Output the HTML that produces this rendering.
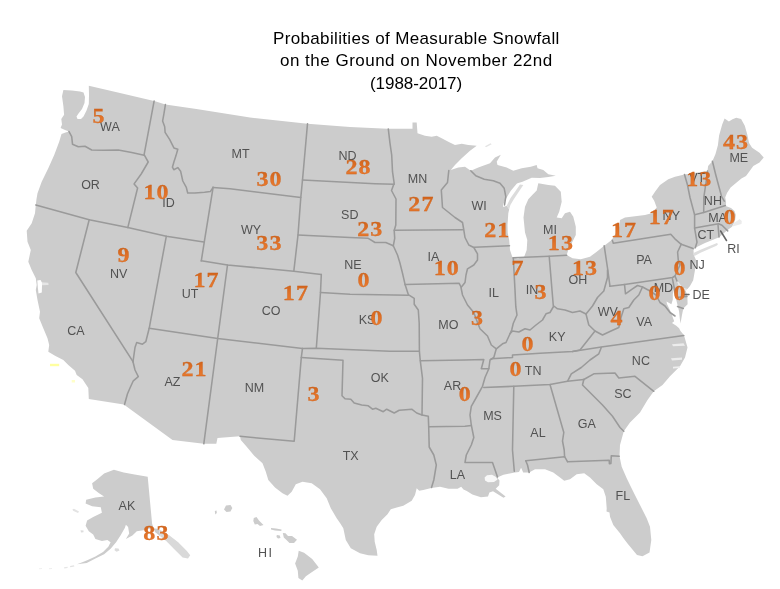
<!DOCTYPE html>
<html lang="en"><head><meta charset="utf-8"><title>Probabilities of Measurable Snowfall</title>
<style>
html,body{margin:0;padding:0;background:#fff;}
body{width:780px;height:589px;overflow:hidden;position:relative;font-family:"Liberation Sans",sans-serif;}
#map{position:absolute;left:0;top:0;width:780px;height:589px;display:block;filter:blur(0.5px);}
.title{position:absolute;left:0;top:0;width:780px;height:100px;margin:0;font-weight:normal;color:#000;will-change:transform;}
.title span{position:absolute;white-space:nowrap;font-family:"Liberation Sans",sans-serif;font-size:17px;line-height:20px;letter-spacing:0.35px;transform-origin:0 0;}
.land{fill:#cccccc;stroke:none;}
.b{fill:none;stroke:#9a9a9a;stroke-width:1.55;stroke-linejoin:round;stroke-linecap:round;}
.st{font-family:"Liberation Sans",sans-serif;font-size:12.5px;fill:#525252;text-anchor:middle;}
.n{font-family:"Liberation Serif",serif;font-weight:bold;font-size:20.5px;fill:url(#ng);stroke:#c9601a;stroke-width:0.25;text-anchor:middle;}
</style></head><body>
<svg id="map" width="780" height="589" viewBox="0 0 780 589">
<defs><linearGradient id="ng" x1="0" y1="0" x2="0" y2="1"><stop offset="0" stop-color="#c95e16"/><stop offset="0.55" stop-color="#e27228"/><stop offset="1" stop-color="#ea7e32"/></linearGradient></defs>
<g class="land">
<polygon points="88.8,85.8 120,93 155.1,101.3 165.4,104.6 196.4,109.1 250,117.6 307.5,123.8 350,127 387.5,128.8 412.5,128.8 412.5,122.5 416.7,122.5 417.5,133.3 425,135.8 431.7,136.7 436.7,135.8 441.7,138.3 448.3,141.7 455,145 461.7,143.7 468.3,145 476.7,145.8 470,150.8 461.7,158.3 455,165 450.8,170 458.3,167.5 465,166.7 470.8,170.8 478.3,167.5 490,163.3 495,157.5 500.8,154.7 496.7,161.7 497.5,165 506.7,167.5 513.3,170.8 521.7,168.3 530.8,166.7 536.7,165 537.5,168.3 543.3,170 548.3,174.2 555.8,175.8 548.3,176.9 540,177.9 531.7,177.7 528.3,179.2 522.5,181.7 517.5,183.3 516.7,183.8 510.8,190.8 506.7,197.5 502.9,205 503.3,207 506.7,205.7 509.2,209.2 508.3,213.3 507.5,225 507.7,233 509.2,240 510,250 512.5,257.5 518,258.6 524.2,256.7 526.7,250 527.3,240 525,232.5 523.5,217.5 525,206.7 528.3,199.2 532.5,194.8 536.7,190.5 538.3,183.3 548.3,185 555,185.8 560.8,191.7 561.7,201.7 559.2,211.7 556.7,217.5 561.7,218.3 565,213.3 570,211.7 573.3,216.7 575.8,226.7 575.8,235 571.7,243.3 568.3,250 566.7,255 572.5,258.3 580.8,259.2 590,256.7 596.7,251.7 604.2,245.8 611.7,240 615.8,233.3 619.2,226.7 620,220 625,217.5 635,216.3 645,215 651.7,213.3 656.7,207.5 654.2,200.8 651.7,196.7 655,191.7 660,185 668.3,179.2 675,176.7 684.5,174.5 707.5,171 708.1,166.1 712.4,161.2 715.5,153.9 717.9,145.3 719.1,135.6 722.2,124.6 724.6,118.4 728.9,121.5 732.5,119.3 736.2,117.8 741.1,119.1 744.8,125.8 747.2,134.3 749.1,142.9 752.1,147.8 759.5,152.7 763.7,157.6 759.5,162.5 753.3,166.1 749.7,171 746,176 741.4,178.6 736,183.1 730.6,187.6 727,193 725.2,197.5 726.1,202 725.7,206.1 731,208 734.5,211 735.8,215 735.2,219.5 734,223 732,226.7 726.3,230.9 719.2,237.2 705,243 695.3,247.8 693.5,250 693.8,255 696,260 695,270 693.2,280.3 690,286 687.5,289 683.5,288.5 680,284.5 677,280.5 678.5,284.5 682,289.5 685.8,291 687.4,296 687.6,304.3 683.3,308.5 681.9,315.6 680.5,323.4 679.8,318.4 679.1,311.4 677.7,305.7 676.3,300.1 675,294 674,289.5 672.8,294 672.8,299.4 671.4,304.3 666.5,301.6 667,304 669.9,310 672.1,315.6 674.2,321.2 672,323 676.3,325.8 679.1,328.3 680.5,331 684,335.3 687.5,347.5 685,357.5 680,366.3 670,376.3 662.5,385 653.8,391.3 647.5,400 640,412.5 630,422.5 623.8,431.3 620,445 619.5,456.3 621.7,466.7 626.7,478.3 633.3,491.7 640,505 646.7,518.3 650,526.7 651.3,540 649.5,552.5 642.5,556.3 637,555 627.5,543.5 623.3,538 620,533.3 613.3,525 610,516.7 609.5,512.5 606.5,511.5 606.7,508.3 605.8,496.7 603.3,489.2 596.7,484.2 590,477.5 584.2,473.3 576.7,474.2 570,479.2 564.2,480.8 560,477.5 553.3,472.5 545,469.2 535,469.2 529.2,472.5 523.2,472.6 521.1,467.7 519,472 514.8,472.6 503.5,474.7 497.1,477.6 499.5,480.5 499.2,485.3 495.7,488.8 505.6,496.6 503.5,497.7 493,491.3 489.4,492.4 488,496.6 480.9,497.3 472.4,494.5 466.8,491 463.5,489.5 461.2,486.7 457.6,488.8 448.5,488.8 440,486.7 431.3,488 423.3,490 419.2,490.8 416.7,488.3 415,495 411.7,500.8 403.3,505.8 396.7,507.5 390.8,509.2 387.5,514.2 381.7,520 376.7,526.7 374.2,534.2 374.7,541.7 376.7,550 377.5,555.8 368.3,555.3 360,553.3 350.8,548.3 345.8,540 343.3,528.3 340,523 336.7,518.3 330.8,508.3 326.7,498.3 320,489.2 311.7,483.3 302.5,481.7 295.8,484.2 291.7,491.7 287.5,495.8 282.5,493.3 275,487.5 268.3,480 265.8,471.7 262.5,463.3 254.2,455.8 246.7,446.7 240.8,440 240,436.3 217.5,438 216.3,443.8 203.8,443.8 172.5,440 123.8,404.5 88.8,399 88.3,388 82.5,379.2 76.7,375 75,370.8 68.3,365 63.3,360 55,355.8 48.3,351.7 49.2,345 47.5,338.3 43.3,328.3 39.2,318.3 40,311.7 37.5,300 35.8,290 36.7,285 35.8,278.3 31.7,270 28.3,261.7 30.8,250 27.5,241.7 26.7,230.8 31.7,223.3 35,213.3 35.8,205 36.5,199 37.5,193.3 41.7,181.7 48.3,168.3 54.2,155 59.2,141.7 61.5,134 65.5,132.6 69,131.5 65,130 60.6,128 62,124.5 61.3,118.9 64.1,114.7 63.4,106.2 62,96.3 63.4,90 72,90.5 80,91.5 83.5,92.5 85,97 84.5,103 82,109 78.5,113.5 76.5,116.5 77.5,119 81,119 83.5,116.5 86.5,110.5 88.8,104 89,95"/>
<polygon points="113.9,469.8 104.1,473.5 97.6,479 92.1,483.3 93.2,488.8 98.7,493.1 104.1,496.4 95.4,497.5 86.2,499.7 85.6,503.4 92.1,506.2 100.8,507.3 101.9,512.8 93.2,517.1 87.1,520.4 85.6,525.8 88.8,531.3 93.2,534.6 95.4,538.9 101.9,541.1 107.4,540 110.6,542.2 108.5,546.5 103,552 95.4,556.4 87.8,560.1 82.3,562.2 77,564.3 86.7,562.9 95.4,558.5 104.1,554.2 110.6,548.7 116.1,542.2 120.5,535.6 124.8,528 125.9,524.7 128.1,526.9 129.2,533.5 125.9,538.9 132.4,535.6 136.8,531.3 143.3,530.2 152.1,528 158.6,529.1 160.8,536.7 155,532 152.1,523.7 147.7,476.8 134.6,474.6 123.7,472.4"/>
<polygon points="226,505.5 230.5,505 232.3,508 230.5,511.5 226.5,512 224,509.5"/>
<polygon points="214.8,511 216.5,510.5 216.8,513 215.3,514.5"/>
<polygon points="253.8,518 256.5,517 259,520.5 263.5,525 260,526 257.5,524 254.8,524.5 253.3,521"/>
<polygon points="271,528 276,528.6 281.5,529.6 281.3,531 275,530.6 271,529.6"/>
<polygon points="276.8,535 279.8,535.5 280.5,538 278,538.5 276.5,537"/>
<polygon points="282.8,533 285.5,533.3 288,536 292,536 297,539.8 294,543 289.5,543 286.5,540 283.8,537.5"/>
<polygon points="298.7,550.7 304.1,552.8 312.2,559.1 318.8,567.5 311.3,572.6 305.9,576.2 302.3,580.6 298.4,578 297.8,570.8 295.1,563.6 297.8,556.4"/>
<polygon points="520,184.6 523.3,185 518.3,192.5 513.8,199.2 510.4,205 509.2,209.2 506.7,205.7 510.4,198.3 515,191.7" style="fill:#dcdcdc"/>
<polygon points="694,252.8 701,249.5 709,246.2 717,243 718,244.3 716.5,245.8 708.5,249.3 700.5,252.8 694.5,256 693.5,254.5" style="fill:#dedede"/>
<polygon points="734,222.8 737,221 739.5,219 741.8,221 741.5,224 737,225.2 732.5,226.5" style="fill:#ebebeb"/>
<polygon points="158.6,529.1 169.5,535.6 178.2,542.2 186.9,550.9 190.2,555.3 188,558.5 182.6,557.4 173.8,548.7 166.2,541.1 160.8,536.7" style="fill:#d9d9d9"/>
<polygon points="115,548.3 118.5,548.6 119.5,550.5 116.5,551.8 114.5,550.3" style="fill:#dcdcdc"/>
<polygon points="80.5,530.3 83.5,530.5 83.5,532.2 81,532.4" style="fill:#dddddd"/>
<polygon points="72.5,509.3 74,508.8 79,511.5 78,513 73,510.8" style="fill:#e3e3e3"/>
<polygon points="70,566 74,565.2 74.3,566.4 70.3,567.2" style="fill:#e2e2e2"/>
<polygon points="64,567.3 67.5,566.8 67.7,568 64.2,568.5" style="fill:#e6e6e6"/>
<polygon points="49,568.3 52,568 52,569 49,569.3" style="fill:#eeeeee"/>
<polygon points="39,568.3 42,568 42,569 39,569.3" style="fill:#f0f0f0"/>
<polygon points="485,146.3 490.5,143.2 491.7,144.2 486,147.3" style="fill:#e4e4e4"/>
</g>
<polygon points="41,282.3 48.3,282.8 48.6,285 41.5,285.3" style="fill:#e6e6e6"/>
<polygon points="37.3,280.5 40.5,280 41.8,282.3 42,285.3 41.8,292.5 38.5,293.5 37.8,287" style="fill:#ffffff"/>
<polygon points="50,363.8 59.2,363.8 59.2,366.2 50,366.2" style="fill:#ffffa0"/>
<polygon points="71.7,380 75,380 75,382.5 71.7,382.5" style="fill:#ffffc8"/>
<polygon points="484.6,477.5 487,475.2 492,474.8 496,477 497.5,479.5 494,482 488,482.3 485,480.5" style="fill:#f8f8f8"/>
<polygon points="672,344.3 683.5,343.3 685,345.8 673,346.3" style="fill:#ececec"/>
<polygon points="671,358.3 682,357.6 682,359.8 672,360.4" style="fill:#ececec"/>
<polygon points="673,366.8 680,366.2 680,368 673,368.4" style="fill:#eeeeee"/>
<polygon points="677,280.5 680,284.5 683.5,288.5 687.5,289 685.8,291 682,289.5 678.5,284.5" style="fill:#e6e6e6"/>
<g class="b">
<polyline points="69,131.5 71.7,136.7 72.5,144.2 78.3,146.7 85,146.3 91.7,150 103.3,150.3 118.3,150 131.7,152.5 144.1,155.2"/>
<polyline points="154.1,101.1 144.1,154.6 148.2,162 141.2,174 134.1,183.9 137.6,188 127.8,227.6"/>
<polyline points="165.4,104.6 164,113.3 162.6,121.1 164.7,126.7 165.1,132.4 169.6,139.4 173.9,147.9 177.8,149.3 176,155.6 173.9,162 172.4,167.2 173.8,169.7 177.8,167.6 180.6,171.2 182.8,181 186.3,187.4 187.7,193 194.8,193 204.6,192.3 210.3,191.6 213.1,187.4"/>
<polyline points="35.8,205 89.2,219.7 127.8,227.6 166.3,236.3 203.8,242"/>
<polyline points="213.1,187.4 204.3,241.8 201.3,260.8"/>
<polyline points="89.2,219.7 75.8,272.5 133,361.7"/>
<polyline points="166.3,236.3 149.2,328.3 145.8,341.7 142.5,344.2 136.7,342.5 135,347.5 133,361.7"/>
<polyline points="133,361.7 135,370 138.3,376.7 133.3,380.8 130,388 127.5,393.8 124.5,404.5"/>
<polyline points="149.2,328.3 217.7,338.5 302.5,348.4 316.3,348.3 390,351.3 419.4,351.3"/>
<polyline points="227.5,265 217.7,338.5 203.8,443.8"/>
<polyline points="201.3,260.8 227.5,265 293.8,271.3 321.3,274.5"/>
<polyline points="213.1,187.4 230,188.8 300.8,197.5"/>
<polyline points="307.5,123.8 302.5,180 300.8,197.5 298,235 293.8,271.3"/>
<polyline points="302.5,180 375,183.7 394.2,184.3"/>
<polyline points="298,235 350,237.5 368.3,238.3 375,242.5 385.8,242.5 393.3,245.8"/>
<polyline points="388.3,129 390,143.3 391.7,155 392.5,171.7 394.2,183.3 391.5,190.5 396,199 395.8,225 394.2,230.5 394.7,238.3 393.3,245.8"/>
<polyline points="393.3,245.8 397.5,255 400,263.3 402.5,273.3 405,284.2 408.3,294.6 414.2,298.3 414.2,304.2 418.3,310 419.2,323 419.4,351.3 420.3,360.8 422.5,378.3 422,415 428.3,416.3 428.7,426.7"/>
<polyline points="321.3,274.5 320.5,292.5 316.3,348.3"/>
<polyline points="320.5,292.5 350,294.2 408.3,295.2"/>
<polyline points="394.2,230.3 462.5,229.7"/>
<polyline points="405,284.6 459.2,283.3 461,287"/>
<polyline points="448.8,170.5 447.5,182.5 441.3,190 442.5,207.5 455,217.5 462.5,222.5 463.8,230 465,237.5 468.8,245 473.8,247.5 477.5,253.8 477.5,260 473.8,265 467.5,268.8 466,275 465,282.5 461,287.5 462.5,295 467.5,305 473.8,312.5 477.5,322.5 480,328.8 487.5,336 491.3,345 496.3,348.8 493.8,357.5 490,360 488.8,368.8 485,377.5 482.5,386.3 476.3,397.5 471.3,406.3 470,415 471.3,425 473.8,437.5 471.3,445 466.3,455 465,462.5 492.5,462.5 497.5,477"/>
<polyline points="470.8,170.8 475.8,175.8 484.2,179.2 493.3,180.8 500,183.3 504.2,188.3 505.8,196.7 504.5,205"/>
<polyline points="474.2,247.2 509.5,245.8"/>
<polyline points="513.3,258.3 515,290 515.8,306.7 517,315 513.3,323.3 511.7,330 510,333.8"/>
<polyline points="513,257.8 549.2,256.2 566.7,255.2"/>
<polyline points="549.2,256.2 553.3,305.8"/>
<polyline points="607.5,270 607.5,277.5 603.8,291 597.5,297.5 592.5,306 586,314 580,311 572.5,312.5 565,310 557.5,308.8 553.8,306 550,312.5 546,313.8 542.5,320 536,325 530,330 525,328.8 518.8,332 512.5,331 510,333.8 506,342.5 502.5,343.8 496.3,348.8"/>
<polyline points="604.2,245.8 607.5,268 610,286.3"/>
<polyline points="610,286.3 624.5,284.5 672.5,277.5 675,276"/>
<polyline points="612.3,240.3 613.3,243.3 670.8,234.2 675.5,239.4 681.2,244.3"/>
<polyline points="681.2,244.3 693.1,248.5"/>
<polyline points="681.2,244.3 677.6,252 678.3,260.5 680,265 675,276 677,281"/>
<polyline points="672.5,278.8 676,297.5 686.9,296.5"/>
<polyline points="677.5,306.5 683.3,308.5"/>
<polyline points="624.5,284.5 625.5,293.8 632.5,288.8 637.5,285.5 642.5,287 650,291 656,295 660,302.5 665,306 670,312.5 675,316"/>
<polyline points="642.5,287 638.8,295 633.8,300 628.8,307.5 623.8,308.8 621,317.5 618.8,327.5 611,331 602.5,335 595,331 588.8,325 586,314"/>
<polyline points="595,331 580,350 572.5,351.5"/>
<polyline points="683.8,335.5 601.3,347 572.5,351.5 540,353.2 512.5,355 512.5,357.5 491.3,358.8"/>
<polyline points="601.3,347.5 598.8,353.8 590,360 581.3,367.5 571.3,373.8 567.5,381.3"/>
<polyline points="483.8,387.5 513.8,386.3 550,384.5 567.5,381.3 583.8,379.5"/>
<polyline points="583.8,379.5 593.8,373.8 615,373 618.8,378 635,376.3 653.8,391.3"/>
<polyline points="583.8,379.5 582.5,385 590,392.5 602.5,405 612.5,416.3 620,427.5 623.8,431.3"/>
<polyline points="513.8,386.3 512.5,450 514.3,471.3"/>
<polyline points="550,384.5 563.8,432.5 562.5,441 564.2,450 564.6,456.7"/>
<polyline points="525.8,460.8 564.6,456.7 567.5,461.7"/>
<polyline points="525.8,460.8 527.5,465 529.2,472.5"/>
<polyline points="567.5,461.7 609.2,460.3 609.4,463.8 610.9,463.5 611.3,455.8 619.2,456.2"/>
<polyline points="420.3,360.8 465,360 483.8,359.5 481.3,368.8 488.8,368.8"/>
<polyline points="428.7,426.7 465,426.3 471.3,425.4"/>
<polyline points="428.7,426.7 429.2,447 433.8,455 436.3,465 433.8,480 431.5,487.5"/>
<polyline points="422,415 416.7,413 411.7,409.2 405.8,409.7 399.2,410.3 394.2,413 386.7,409.2 383.3,411.7 375.8,408.3 372.5,409.2 368.3,405.8 361.7,405 354.2,403 350.8,399.2 345,398.7 342,395.8 343,360.3 301.3,357.5"/>
<polyline points="302.5,348.4 301.3,357.5 294.2,441.3 240,436.3"/>
<polyline points="684.5,174.5 687.5,185 690,197.5 694.6,214.7 694.6,228.1 697,242.2 695.3,247.8"/>
<polyline points="707.5,171 706,182.5 703.8,197.5 703.7,212.6"/>
<polyline points="712.4,161.2 715.8,175 721.6,196.6 724.3,201.1"/>
<polyline points="694.6,214.7 703.7,212.6 725.4,205.6"/>
<polyline points="694.6,228.1 718.5,223.8 722,225.3 727.7,230.9"/>
<polyline points="718,224.5 719,237"/>
<polyline points="720.6,231 726.5,240.5" style="stroke:#666"/>
<polyline points="684,294.5 689,294.5" style="stroke:#666"/>
</g>
<g class="st">
<text x="109.9" y="131.38">WA</text>
<text x="90.5" y="189.28">OR</text>
<text x="168.5" y="207.28">ID</text>
<text x="240.6" y="158.28">MT</text>
<text x="347.5" y="160.28">ND</text>
<text x="349.8" y="218.78">SD</text>
<text x="251" y="234.28">WY</text>
<text x="417.6" y="182.88">MN</text>
<text x="479.1" y="209.97">WI</text>
<text x="550" y="234.28">MI</text>
<text x="738.8" y="162.17">ME</text>
<text x="697.2" y="182.28">VT</text>
<text x="712.9" y="205.38">NH</text>
<text x="671.3" y="220.38">NY</text>
<text x="717.5" y="221.97">MA</text>
<text x="705.8" y="238.88">CT</text>
<text x="733.5" y="252.67">RI</text>
<text x="697.1" y="269.48">NJ</text>
<text x="644" y="263.88">PA</text>
<text x="577.9" y="283.78">OH</text>
<text x="663.4" y="291.88">MD</text>
<text x="701.2" y="299.48">DE</text>
<text x="607.8" y="316.48">WV</text>
<text x="644.1" y="326.28">VA</text>
<text x="640.9" y="365.48">NC</text>
<text x="433.5" y="260.78">IA</text>
<text x="493.8" y="297.48">IL</text>
<text x="532" y="293.98">IN</text>
<text x="448.4" y="328.88">MO</text>
<text x="557.2" y="341.28">KY</text>
<text x="352.9" y="269.28">NE</text>
<text x="271" y="314.88">CO</text>
<text x="367.1" y="324.28">KS</text>
<text x="118.7" y="277.68">NV</text>
<text x="190" y="297.68">UT</text>
<text x="75.9" y="334.78">CA</text>
<text x="172.5" y="385.78">AZ</text>
<text x="254.4" y="392.28">NM</text>
<text x="379.8" y="382.48">OK</text>
<text x="350.7" y="460.28">TX</text>
<text x="452.5" y="389.78">AR</text>
<text x="533.1" y="375.38">TN</text>
<text x="492.5" y="420.48">MS</text>
<text x="538" y="436.78">AL</text>
<text x="622.9" y="398.28">SC</text>
<text x="586.9" y="428.28">GA</text>
<text x="622.8" y="499.88">FL</text>
<text x="457.5" y="478.88">LA</text>
<text x="126.9" y="510.28">AK</text>
<text x="265.65" y="556.68" style="letter-spacing:1.3px">HI</text>
</g>
<g class="n">
<text transform="translate(98.5,122.53) scale(1.17,1)">5</text>
<text transform="translate(156.60,198.83) scale(1.17,1)" style="letter-spacing:0.9px">10</text>
<text transform="translate(269.60,186.03) scale(1.17,1)" style="letter-spacing:0.9px">30</text>
<text transform="translate(358.60,173.83) scale(1.17,1)" style="letter-spacing:0.9px">28</text>
<text transform="translate(370.20,236.33) scale(1.17,1)" style="letter-spacing:0.9px">23</text>
<text transform="translate(269.40,249.53) scale(1.17,1)" style="letter-spacing:0.9px">33</text>
<text transform="translate(123.5,262.23) scale(1.17,1)">9</text>
<text transform="translate(206.50,286.73) scale(1.17,1)" style="letter-spacing:0.9px">17</text>
<text transform="translate(295.90,299.53) scale(1.17,1)" style="letter-spacing:0.9px">17</text>
<text transform="translate(363.5,286.63) scale(1.17,1)">0</text>
<text transform="translate(376.6,324.53) scale(1.17,1)">0</text>
<text transform="translate(194.60,375.73) scale(1.17,1)" style="letter-spacing:0.9px">21</text>
<text transform="translate(313.4,400.73) scale(1.17,1)">3</text>
<text transform="translate(421.40,211.33) scale(1.17,1)" style="letter-spacing:0.9px">27</text>
<text transform="translate(446.80,274.53) scale(1.17,1)" style="letter-spacing:0.9px">10</text>
<text transform="translate(497.20,236.83) scale(1.17,1)" style="letter-spacing:0.9px">21</text>
<text transform="translate(517.5,274.53) scale(1.17,1)">7</text>
<text transform="translate(540.4,298.53) scale(1.17,1)">3</text>
<text transform="translate(477.1,324.73) scale(1.17,1)">3</text>
<text transform="translate(560.90,249.53) scale(1.17,1)" style="letter-spacing:0.9px">13</text>
<text transform="translate(585.10,274.63) scale(1.17,1)" style="letter-spacing:0.9px">13</text>
<text transform="translate(624.10,236.73) scale(1.17,1)" style="letter-spacing:0.9px">17</text>
<text transform="translate(661.80,223.83) scale(1.17,1)" style="letter-spacing:0.9px">17</text>
<text transform="translate(699.30,185.73) scale(1.17,1)" style="letter-spacing:0.9px">13</text>
<text transform="translate(736.00,148.83) scale(1.17,1)" style="letter-spacing:0.9px">43</text>
<text transform="translate(729.6,224.13) scale(1.17,1)">0</text>
<text transform="translate(679.5,275.03) scale(1.17,1)">0</text>
<text transform="translate(654.4,299.73) scale(1.17,1)">0</text>
<text transform="translate(679.4,299.73) scale(1.17,1)">0</text>
<text transform="translate(616.5,324.73) scale(1.17,1)">4</text>
<text transform="translate(527.5,350.73) scale(1.17,1)">0</text>
<text transform="translate(515.4,375.73) scale(1.17,1)">0</text>
<text transform="translate(464.8,400.73) scale(1.17,1)">0</text>
<text transform="translate(156.40,539.83) scale(1.17,1)" style="letter-spacing:0.9px">83</text>
</g>
</svg>
<h1 class="title">
<span style="left:273px;top:28.7px;letter-spacing:0.35px">Probabilities of Measurable Snowfall</span>
<span style="left:280px;top:51.1px;letter-spacing:0.49px">on the Ground on November 22nd</span>
<span style="left:370px;top:73.6px;letter-spacing:-0.05px">(1988-2017)</span>
</h1>
</body></html>
